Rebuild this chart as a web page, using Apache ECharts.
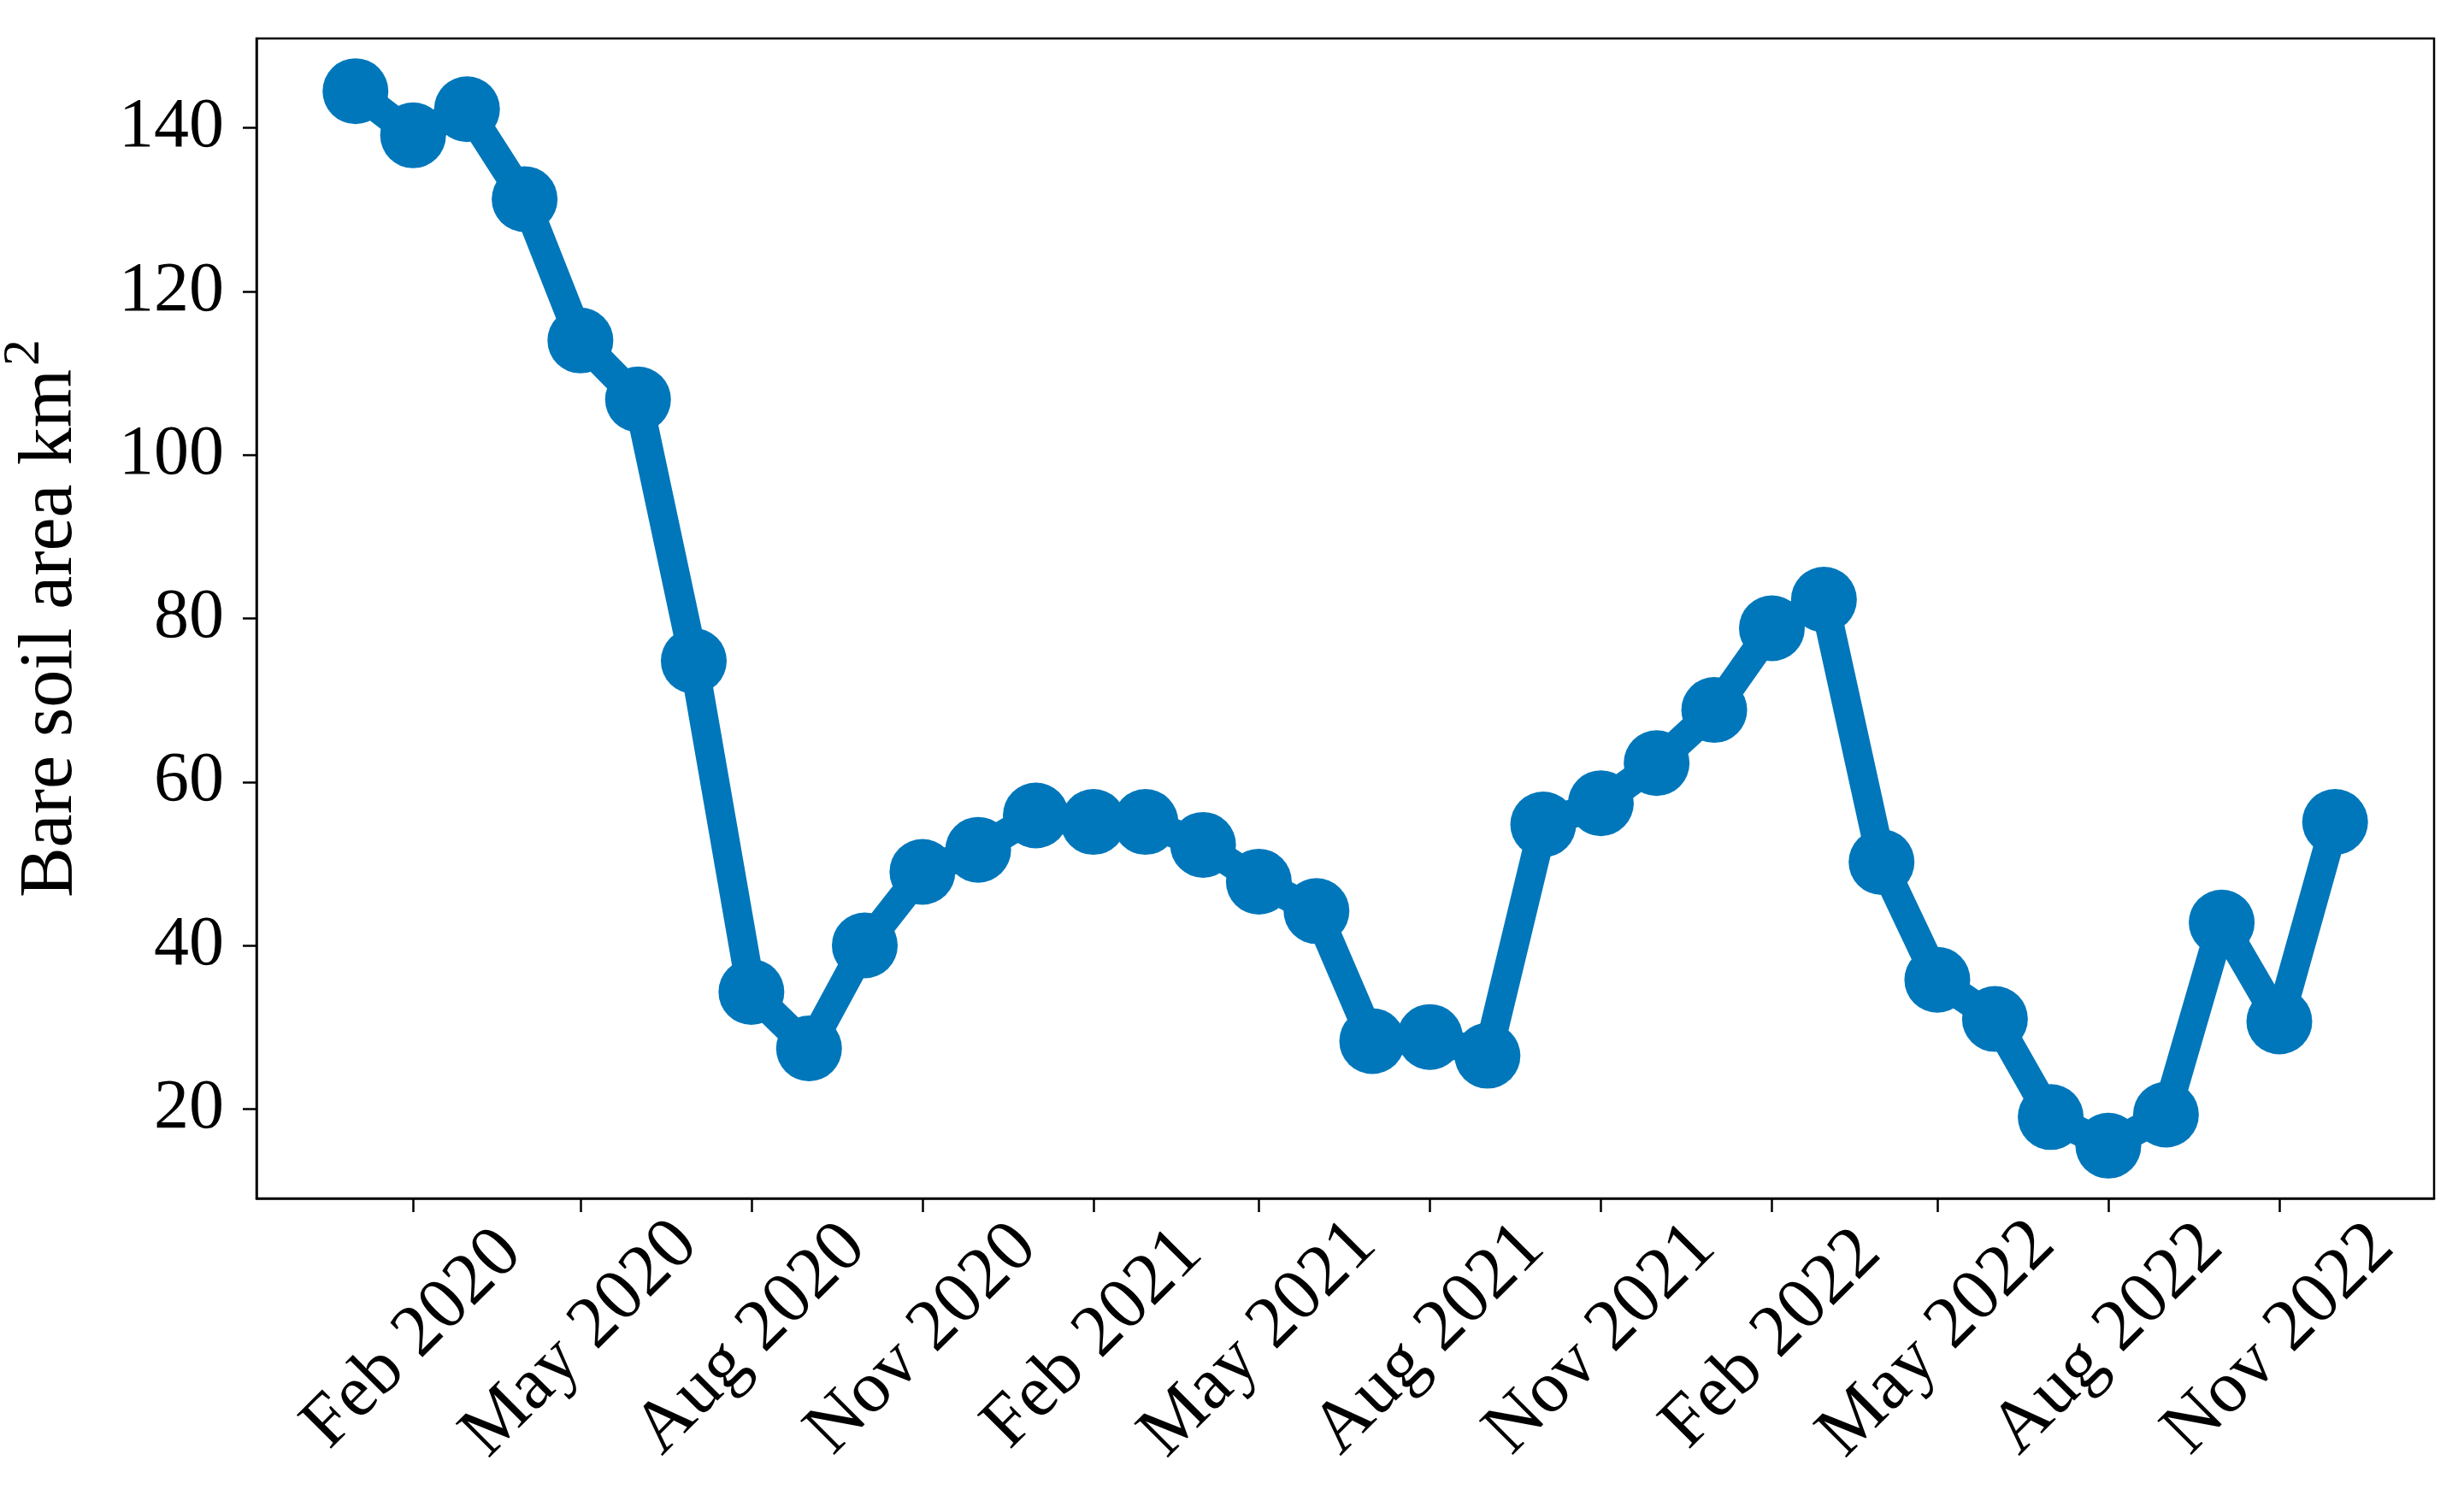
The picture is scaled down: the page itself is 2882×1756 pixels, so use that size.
<!DOCTYPE html>
<html>
<head>
<meta charset="utf-8">
<script src="https://cdn.jsdelivr.net/npm/echarts@6/dist/echarts.min.js"></script>
<style>
  html, body { margin: 0; padding: 0; background: #fff; }
  #chart { width: 2882px; height: 1756px; }
</style>
</head>
<body>
<div id="chart"></div>
<script>
// ---- data ----
const months = [
  '2020-01','2020-02','2020-03','2020-04','2020-05','2020-06','2020-07','2020-08','2020-09','2020-10','2020-11','2020-12',
  '2021-01','2021-02','2021-03','2021-04','2021-05','2021-06','2021-07','2021-08','2021-09','2021-10','2021-11','2021-12',
  '2022-01','2022-02','2022-03','2022-04','2022-05','2022-06','2022-07','2022-08','2022-09','2022-10','2022-11','2022-12'
];
const bareSoil = [
  144.5, 139.1, 142.3, 131.3, 114.0, 106.8, 74.8, 34.3, 27.4, 40.0, 49.0, 51.7,
  55.9, 55.1, 55.1, 52.3, 47.8, 44.2, 28.3, 28.8, 26.5, 54.8, 57.4, 62.3,
  68.8, 78.8, 82.3, 50.2, 35.8, 31.0, 19.0, 15.5, 19.3, 42.8, 30.7, 55.1
];
const tickMonths = ['2020-02','2020-05','2020-08','2020-11','2021-02','2021-05','2021-08','2021-11','2022-02','2022-05','2022-08','2022-11'];
const tickLabels = ['Feb 2020','May 2020','Aug 2020','Nov 2020','Feb 2021','May 2021','Aug 2021','Nov 2021','Feb 2022','May 2022','Aug 2022','Nov 2022'];
const yTicks = [20, 40, 60, 80, 100, 120, 140];

// ---- helpers ----
// day number (days since 1970-01-01, UTC) for the 1st of a month
function toDay(m) { const p = m.split('-'); return Date.UTC(+p[0], +p[1] - 1, 1) / 86400000; }
const days = months.map(toDay);
const tickDays = tickMonths.map(toDay);
const seriesData = days.map((d, i) => [d, bareSoil[i]]);

const tSpan = days[days.length - 1] - days[0];
const xMin = days[0] - 0.05 * tSpan;
const xMax = days[days.length - 1] + 0.05 * tSpan;
const vMin = Math.min(...bareSoil), vMax = Math.max(...bareSoil);
const vSpan = vMax - vMin;
const yMin = vMin - 0.05 * vSpan;
const yMax = vMax + 0.05 * vSpan;

const FONT = '"Liberation Serif", "DejaVu Serif", serif';
const BLUE = '#0077BB';

const chart = echarts.init(document.getElementById('chart'), null, { renderer: 'canvas' });
chart.setOption({
  animation: false,
  backgroundColor: '#ffffff',
  grid: {
    left: 300, right: 35, top: 45, bottom: 354,
    outerBoundsMode: 'none',
    containLabel: false,
    show: true, borderColor: '#000', borderWidth: 2.5, backgroundColor: 'transparent'
  },
  xAxis: {
    type: 'value',
    min: xMin, max: xMax,
    scale: true,
    splitLine: { show: false },
    axisLine: { show: true, onZero: false, lineStyle: { color: '#000', width: 2.5 } },
    axisTick: { show: true, inside: false, length: 16, lineStyle: { color: '#000', width: 2.5 }, customValues: tickDays },
    axisLabel: {
      customValues: tickDays,
      rotate: 45,
      align: 'center',
      verticalAlign: 'middle',
      margin: 165,
      color: '#000',
      fontFamily: FONT,
      fontSize: 86,
      formatter: function (v) {
        let best = -1, bd = Infinity;
        tickDays.forEach((t, i) => { const d = Math.abs(t - v); if (d < bd) { bd = d; best = i; } });
        return bd < 1 ? tickLabels[best] : '';
      }
    }
  },
  yAxis: {
    type: 'value',
    min: yMin, max: yMax,
    scale: true,
    splitLine: { show: false },
    axisLine: { show: true, onZero: false, lineStyle: { color: '#000', width: 2.5 } },
    axisTick: { show: true, inside: false, length: 16, lineStyle: { color: '#000', width: 2.5 }, customValues: yTicks },
    axisLabel: {
      customValues: yTicks,
      margin: 38,
      color: '#000',
      fontFamily: FONT,
      fontSize: 82
    },
    name: '{n|Bare soil area km}{s|2}',
    nameLocation: 'middle',
    nameGap: 196,
    nameRotate: 90,
    nameTextStyle: {
      color: '#000',
      fontFamily: FONT,
      rich: {
        n: { fontSize: 88, fontFamily: FONT, color: '#000', lineHeight: 106, verticalAlign: 'bottom' },
        s: { fontSize: 62, fontFamily: FONT, color: '#000', lineHeight: 106, verticalAlign: 'top', padding: [0, 0, 0, 4] }
      }
    }
  },
  series: [{
    type: 'line',
    data: seriesData,
    symbol: 'circle',
    symbolSize: 77,
    showAllSymbol: true,
    itemStyle: { color: BLUE, borderWidth: 0 },
    lineStyle: { color: BLUE, width: 34, join: 'round', cap: 'round' },
    emphasis: { disabled: true },
    z: 3
  }]
});
</script>
</body>
</html>
